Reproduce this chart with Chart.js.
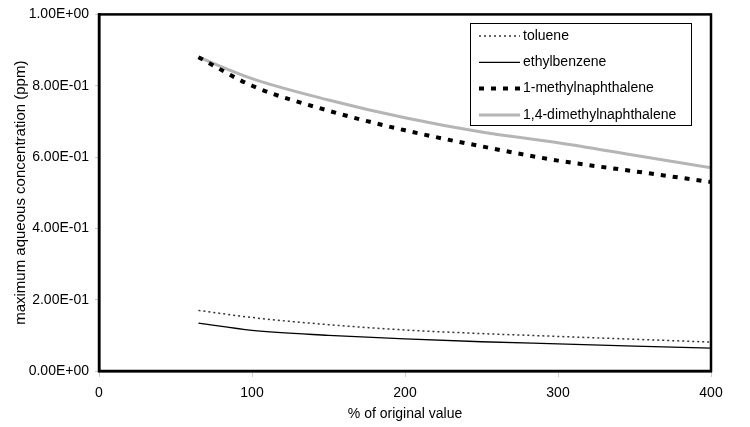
<!DOCTYPE html>
<html>
<head>
<meta charset="utf-8">
<script src="https://cdn.jsdelivr.net/npm/chart.js@4/dist/chart.umd.min.js"></script>
<style>
  html, body { margin: 0; padding: 0; background: #fff; }
  #wrap { width: 750px; height: 427px; }
</style>
</head>
<body>
<div id="wrap"><canvas id="myChart" width="750" height="427"></canvas></div>
<script>
// x values (% of original value)
var pct = [65, 100, 150, 200, 250, 300, 350, 400];
// maximum aqueous concentration (ppm)
var toluene = [0.170, 0.150, 0.130, 0.115, 0.105, 0.097, 0.089, 0.081];
var ethylbenzene = [0.134, 0.114, 0.100, 0.090, 0.082, 0.076, 0.070, 0.064];
var methylnaph = [0.880, 0.800, 0.730, 0.675, 0.630, 0.590, 0.560, 0.530];
var dimethylnaph = [0.880, 0.820, 0.760, 0.710, 0.670, 0.640, 0.605, 0.570];
var seriesNames = ['toluene', 'ethylbenzene', '1-methylnaphthalene', '1,4-dimethylnaphthalene'];

function pts(ys) {
    return pct.map(function (x, i) { return { x: x, y: ys[i] }; });
}

// 2.00E-01 style labels
function sci(v) {
    if (v === 0) return '0.00E+00';
    var e = Math.floor(Math.log10(Math.abs(v)) + 1e-9);
    var m = v / Math.pow(10, e);
    var sign = e < 0 ? '-' : '+';
    var ae = Math.abs(e);
    return m.toFixed(2) + 'E' + sign + (ae < 10 ? '0' + ae : ae);
}

var FONT = 'Liberation Sans, Arial, Helvetica, sans-serif';

// frame around the plot area
var framePlugin = {
    id: 'frame',
    afterDatasetsDraw: function (chart) {
        var a = chart.chartArea, c = chart.ctx;
        c.save();
        c.strokeStyle = '#000';
        c.lineWidth = 2.5;
        c.strokeRect(a.left, a.top, a.right - a.left, a.bottom - a.top);
        c.restore();
    }
};

// boxed legend inside the plot
var legendPlugin = {
    id: 'boxLegend',
    afterDraw: function (chart) {
        var c = chart.ctx;
        c.save();
        c.fillStyle = '#fff';
        c.fillRect(470, 23, 221, 102);
        c.strokeStyle = '#000';
        c.lineWidth = 1;
        c.strokeRect(470.5, 23.5, 221, 102);
        c.font = '14px ' + FONT;
        c.textBaseline = 'middle';
        chart.data.datasets.forEach(function (ds, i) {
            var y = 36 + i * 26.3;
            c.save();
            c.strokeStyle = ds.borderColor;
            c.lineWidth = ds.borderWidth;
            c.setLineDash(ds.borderDash || []);
            c.beginPath();
            c.moveTo(479, y);
            c.lineTo(520, y);
            c.stroke();
            c.restore();
            c.fillStyle = '#000';
            c.fillText(ds.label, 523, y);
        });
        c.restore();
    }
};

var ctx = document.getElementById('myChart').getContext('2d');
var myChart = new Chart(ctx, {
    type: 'line',
    data: {
        datasets: [{
            label: seriesNames[0],
            data: pts(toluene),
            borderColor: '#333',
            borderWidth: 1.5,
            borderDash: [2, 3]
        }, {
            label: seriesNames[1],
            data: pts(ethylbenzene),
            borderColor: '#000',
            borderWidth: 1.3
        }, {
            label: seriesNames[2],
            data: pts(methylnaph),
            borderColor: '#000',
            borderWidth: 4,
            borderDash: [5, 7]
        }, {
            label: seriesNames[3],
            data: pts(dimethylnaph),
            borderColor: '#b5b5b5',
            borderWidth: 3
        }]
    },
    options: {
        responsive: false,
        animation: false,
        elements: {
            point: { radius: 0 },
            line: { cubicInterpolationMode: 'monotone', fill: false, backgroundColor: 'transparent' }
        },
        layout: { padding: { left: 8, right: 39, top: 13, bottom: 0 } },
        plugins: {
            legend: { display: false },
            tooltip: { enabled: false }
        },
        scales: {
            x: {
                type: 'linear',
                min: 0,
                max: 400,
                ticks: { stepSize: 100, color: '#000', font: { family: FONT, size: 14 }, padding: 8 },
                grid: { drawOnChartArea: false, tickLength: 6, color: '#ccc' },
                border: { color: '#000', width: 2.5 },
                title: { display: true, text: '% of original value', color: '#000', font: { family: FONT, size: 14 }, padding: { top: 3 } },
                afterFit: function (s) { s.height = 56; }
            },
            y: {
                min: 0,
                max: 1,
                ticks: { stepSize: 0.2, color: '#000', font: { family: FONT, size: 14 }, padding: 6, callback: function (v) { return sci(v); } },
                grid: { drawOnChartArea: false, tickLength: 4, color: '#ccc' },
                border: { color: '#000', width: 2.5 },
                title: { display: true, text: 'maximum aqueous concentration (ppm)', color: '#000', font: { family: FONT, size: 15 }, padding: { bottom: 0 } },
                afterFit: function (s) { s.width = 91; }
            }
        }
    },
    plugins: [framePlugin, legendPlugin]
});
</script>
</body>
</html>
